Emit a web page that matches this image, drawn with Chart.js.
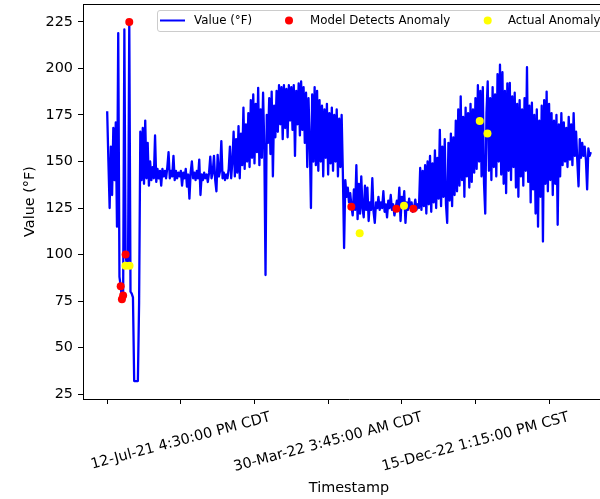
<!DOCTYPE html>
<html>
<head>
<meta charset="utf-8">
<script src="https://cdn.jsdelivr.net/npm/chart.js@4.4.1/dist/chart.umd.min.js"></script>
<style>
  html, body { margin: 0; padding: 0; background: #fff; overflow: hidden; }
  #wrap { width: 620px; height: 499px; }
</style>
</head>
<body>
<div id="wrap"><canvas id="chart" width="620" height="499"></canvas></div>
<script>
// ─── Data ───

// sensor readings, one per sample index
const VALUES = [
  177, 150, 125, 158, 132, 168, 140, 171, 115, 219,
  88, 83, 76, 78, 221, 100, 94, 96, 225, 80,
  79, 77, 32, 32, 32, 32, 74, 166, 140, 168,
  138, 172, 141, 160, 137, 150, 140, 147, 141, 164,
  139, 146, 141, 145, 137, 146, 142, 145, 141, 147,
  155, 141, 145, 142, 153, 140, 145, 141, 144, 142,
  145, 137, 144, 141, 146, 136.5, 143, 130, 144, 150,
  141, 144, 140, 145, 141, 151, 132, 143, 140, 144,
  141, 143, 139, 144, 152.6, 141, 144, 153, 140, 134,
  153.6, 142, 145, 161, 141, 144, 140, 143, 141, 146,
  158, 141, 150, 166, 142, 162, 144, 169, 141, 165,
  148, 179, 146, 170, 150, 176, 147, 183, 152, 186,
  149, 181, 155, 189.6, 148, 178, 152, 187, 158, 89,
  175, 160, 184, 154, 187.6, 142, 180, 163, 188, 166,
  191, 170, 190, 162, 191, 168, 189, 163, 191, 172,
  190, 167, 191, 153, 188, 170, 192, 164, 193, 167,
  190, 160, 187, 147, 184, 162, 125, 186, 150, 190,
  148, 188, 145, 183, 150, 180, 142, 178, 152, 181,
  143, 176, 149, 179, 145, 175, 150, 178, 142, 173,
  147, 175, 144, 103.5, 140, 131, 136, 128, 133, 126,
  121, 135, 124, 148, 119, 138, 122, 142, 125, 120,
  137, 124, 136, 118, 128, 124, 141, 123, 117, 128,
  125, 131, 124, 128, 125, 134, 123, 127, 120, 129,
  125, 132, 124, 127, 121, 125, 129, 124, 136, 118,
  131, 126, 134, 117, 128, 124, 130, 125, 128, 123,
  125, 129.5, 124, 127, 125, 146.5, 124, 145, 126, 148,
  122, 150, 127, 153, 123, 149, 128, 156, 125, 152,
  130, 167, 126, 158, 131, 162, 127, 117, 160, 129,
  165, 126, 163, 132, 172, 134, 178, 137, 185, 140,
  174, 131, 179, 142, 176, 136, 181, 139, 178, 144,
  184, 146, 191, 150, 188, 142, 190, 138, 122, 176,
  193, 145, 184, 140, 190, 147, 186, 142, 197, 150,
  202, 143, 198, 138, 188, 133, 192, 145, 192.3, 140,
  185, 147, 187, 136, 181, 131, 183, 142, 178, 137,
  184, 145, 200.7, 139, 180, 128, 181.6, 135, 175, 122,
  178, 115, 172, 131, 180, 107, 183, 138, 187.6, 134,
  181, 140, 176, 132, 172, 138, 175, 116, 170, 142,
  176, 148, 171, 150, 168, 147, 174, 151, 170, 148,
  176, 153, 166, 150, 136.6, 162, 152, 160, 153, 158,
  151, 135, 157, 153, 155,
];

// anomalies flagged by the model
const MODEL_IDX = [11, 12, 13, 15, 18, 198.9, 235.6, 249.4];
const MODEL_VAL = [83, 76, 78, 100, 225, 125.7, 124.6, 124.6];

// anomalies confirmed in the log
const ACTUAL_IDX = [14.9, 18.2, 205.7, 241.8, 303.5, 309.8];
const ACTUAL_VAL = [94, 94, 111.4, 126.2, 171.7, 165];

const X_TICKS = [0, 60, 120, 180, 240, 300, 360];
const DATE_TICKS = [60, 180, 300];
const DATE_LABELS = ['12-Jul-21 4:30:00 PM CDT', '30-Mar-22 3:45:00 AM CDT', '15-Dec-22 1:15:00 PM CST'];
const Y_TICKS = [25, 50, 75, 100, 125, 150, 175, 200, 225];

const LEGEND_LABELS = ['Value (°F)', 'Model Detects Anomaly', 'Actual Anomaly'];

// ─── Style ───

const FONT = '"DejaVu Sans", sans-serif';
const TICK_PX = 14.4;
const LEGEND_PX = 11.8;
const BLUE = '#0000ff';
const RED = '#ff0000';
const YELLOW = '#ffff00';
const ROT = 15 * Math.PI / 180;

const toPoints = (xs, ys) => xs.map((x, i) => ({ x, y: ys[i] }));

// frame, rotated date labels, axis titles and legend
const decorations = {
  id: 'decorations',
  afterDraw(chart) {
    const { ctx, chartArea: a, scales: { x } } = chart;
    ctx.save();

    ctx.strokeStyle = '#000';
    ctx.lineWidth = 1;
    ctx.beginPath();
    ctx.moveTo(a.left, Math.round(a.top) + 0.5);
    ctx.lineTo(a.right, Math.round(a.top) + 0.5);
    ctx.lineTo(a.right, a.bottom);
    ctx.stroke();

    ctx.fillStyle = '#000';
    ctx.font = `${TICK_PX}px ${FONT}`;
    ctx.textAlign = 'center';
    ctx.textBaseline = 'middle';
    DATE_TICKS.forEach((idx, k) => {
      const text = DATE_LABELS[k];
      const w = ctx.measureText(text).width;
      const h = TICK_PX * 1.17;
      const bh = w * Math.sin(ROT) + h * Math.cos(ROT);
      ctx.save();
      ctx.translate(x.getPixelForValue(idx), a.bottom + 10 + bh / 2);
      ctx.rotate(-ROT);
      ctx.fillText(text, 0, 0);
      ctx.restore();
    });

    ctx.fillText('Timestamp', (a.left + a.right) / 2, 488);

    ctx.save();
    ctx.translate(30, (a.top + a.bottom) / 2);
    ctx.rotate(-Math.PI / 2);
    ctx.fillText('Value (°F)', 0, 0);
    ctx.restore();

    // legend
    const lx = 157, ly = 10, lw = 460, lh = 21, cy = 20.5;
    ctx.beginPath();
    ctx.roundRect(lx + 0.5, ly + 0.5, lw, lh, 2.5);
    ctx.fillStyle = 'rgba(255,255,255,0.8)';
    ctx.fill();
    ctx.strokeStyle = '#cccccc';
    ctx.stroke();

    ctx.strokeStyle = BLUE;
    ctx.lineWidth = 2;
    ctx.beginPath();
    ctx.moveTo(160, cy);
    ctx.lineTo(185, cy);
    ctx.stroke();

    [[289, RED], [487.7, YELLOW]].forEach(([px, col]) => {
      ctx.beginPath();
      ctx.arc(px, cy, 4, 0, Math.PI * 2);
      ctx.fillStyle = col;
      ctx.fill();
    });

    ctx.fillStyle = '#000';
    ctx.font = `${LEGEND_PX}px ${FONT}`;
    ctx.textAlign = 'left';
    [194, 310, 508].forEach((px, k) => ctx.fillText(LEGEND_LABELS[k], px, cy));

    ctx.restore();
  },
};

new Chart(document.getElementById('chart'), {
  type: 'line',
  data: {
    datasets: [
      {
        label: LEGEND_LABELS[0],
        data: VALUES.map((v, i) => ({ x: i, y: v })),
        borderColor: BLUE,
        borderWidth: 2.3,
        borderJoinStyle: 'round',
        pointRadius: 0,
        tension: 0,
        fill: false,
        order: 3,
      },
      {
        type: 'scatter',
        label: LEGEND_LABELS[1],
        data: toPoints(MODEL_IDX, MODEL_VAL),
        backgroundColor: RED,
        borderWidth: 0,
        pointRadius: 4,
        order: 2,
      },
      {
        type: 'scatter',
        label: LEGEND_LABELS[2],
        data: toPoints(ACTUAL_IDX, ACTUAL_VAL),
        backgroundColor: YELLOW,
        borderWidth: 0,
        pointRadius: 4,
        order: 1,
      },
    ],
  },
  options: {
    responsive: false,
    animation: false,
    layout: { padding: { left: 0, top: 4, right: 5, bottom: 0 } },
    plugins: { legend: { display: false }, tooltip: { enabled: false } },
    scales: {
      x: {
        type: 'linear',
        min: -19.7,
        max: 413.7,
        afterBuildTicks: s => { s.ticks = X_TICKS.map(value => ({ value })); },
        afterFit: s => { s.height = 100; s.paddingLeft = 0; s.paddingRight = 0; },
        ticks: { callback: () => '', maxRotation: 0 },
        grid: { drawOnChartArea: false, drawTicks: true, tickLength: 5, color: '#000' },
        border: { display: true, color: '#000', width: 1 },
      },
      y: {
        min: 22.35,
        max: 234.65,
        afterBuildTicks: s => { s.ticks = Y_TICKS.map(value => ({ value })); },
        afterFit: s => { s.width = 83; s.paddingTop = 0; s.paddingBottom = 0; },
        ticks: {
          color: '#000',
          padding: 5,
          font: { family: FONT, size: TICK_PX },
          callback: v => String(v),
        },
        grid: { drawOnChartArea: false, drawTicks: true, tickLength: 5, color: '#000' },
        border: { display: true, color: '#000', width: 1 },
      },
    },
  },
  plugins: [decorations],
});
</script>
</body>
</html>
